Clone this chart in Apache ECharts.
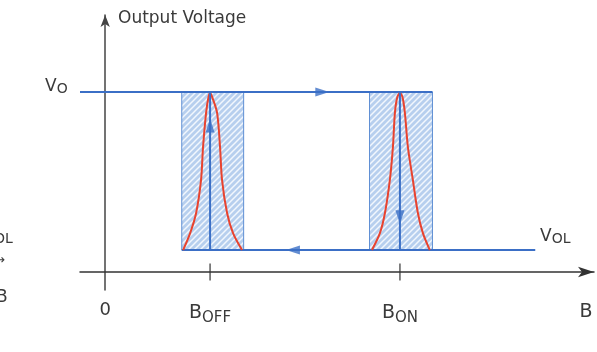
<!DOCTYPE html>
<html>
<head>
<meta charset="UTF-8">
<script src="https://cdn.jsdelivr.net/npm/echarts@6/dist/echarts.min.js"></script>
<style>html,body{margin:0;padding:0;background:#fff;}</style>
</head>
<body>
<div id="main" style="width:597px;height:352px;"></div>
<script>
// switching points (B) and output levels (V)
var bOff = 1.0, bOn = 2.81;
var vOH = 5.0, vOL = 0.61;
var highStart = -0.24, lowEnd = 4.1;

// shaded bands around each switching point
var bandOff = [0.73, 1.32];
var bandOn = [2.52, 3.12];

// red distribution curves
var peakOff = [[0.743,0.61],[0.81,1.08],[0.867,1.64],[0.914,2.56],[0.933,3.47],[0.962,4.42],[0.985,4.86],[1.0,4.97],
               [1.02,4.86],[1.067,4.42],[1.095,3.47],[1.114,2.56],[1.162,1.64],[1.219,1.08],[1.305,0.61]];
var peakOn = [[2.543,0.61],[2.619,1.08],[2.667,1.64],[2.714,2.56],[2.743,3.47],[2.762,4.42],[2.785,4.86],[2.81,4.97],
              [2.834,4.86],[2.857,4.42],[2.886,3.47],[2.933,2.56],[2.981,1.64],[3.029,1.08],[3.095,0.61]];

// direction arrows: [B, V, rotation]
var arrows = [[2.07, 5.0, -90], [1.79, 0.61, 90], [1.0, 4.07, 0], [2.81, 1.52, 180]];

// x axis labels
var labelVals = [0, bOff, bOn, 4.585];
var labelText = ['0', '{b|B}{s|OFF}', '{b|B}{s|ON}', '{b|B}'];

var blue = '#3b6fc6';
var red = '#e8432f';
var ink = '#3a3a3a';
var font = 'DejaVu Sans';

// hatch pattern for the bands
var hatch = document.createElement('canvas');
hatch.width = 6; hatch.height = 6;
var hc = hatch.getContext('2d');
hc.fillStyle = '#b7cfee';
hc.fillRect(0, 0, 6, 6);
hc.strokeStyle = '#f2f7fd';
hc.lineWidth = 1.5;
hc.beginPath();
hc.moveTo(0, 6); hc.lineTo(6, 0);
hc.moveTo(-1, 1); hc.lineTo(1, -1);
hc.moveTo(5, 7); hc.lineTo(7, 5);
hc.stroke();

function seg(pts, z) {
  return {
    type: 'line', data: pts, showSymbol: false, silent: true, z: z || 3,
    lineStyle: { color: blue, width: 2 }
  };
}

var chart = echarts.init(document.getElementById('main'));
chart.setOption({
  animation: false,
  grid: { left: 80, right: 3, top: 15, bottom: 62 },
  xAxis: {
    type: 'value', min: -0.24, max: 4.66,
    splitLine: { show: false },
    axisTick: { show: false },
    axisLine: { lineStyle: { color: '#333', width: 1.5 }, symbol: ['none', 'arrow'], symbolSize: [8, 16] },
    axisLabel: {
      customValues: labelVals,
      margin: 11,
      color: ink,
      fontFamily: font,
      fontSize: 18,
      formatter: function (v) {
        for (var i = 0; i < labelVals.length; i++) {
          if (Math.abs(labelVals[i] - v) < 1e-6) return labelText[i];
        }
        return '';
      },
      rich: {
        b: { fontSize: 19, fontFamily: font, color: ink, lineHeight: 22 },
        s: { fontSize: 15, fontFamily: font, color: ink, padding: [10, 0, 0, 0] }
      }
    }
  },
  yAxis: {
    type: 'value', min: -0.5, max: 7.14,
    splitLine: { show: false },
    axisTick: { show: false },
    axisLabel: { show: false },
    axisLine: { lineStyle: { color: '#444', width: 1.5 }, symbol: ['none', 'arrow'], symbolSize: [7, 12] }
  },
  graphic: [
    { type: 'text', left: 118, top: 10, style: { text: 'Output Voltage', fill: ink, font: '17px "DejaVu Sans"' } },
    { type: 'text', left: 45, top: 78, style: { text: '{a|V}{b|O}', rich: {
        a: { fontSize: 17, fontFamily: font, fill: ink },
        b: { fontSize: 14, fontFamily: font, fill: ink, padding: [6, 0, 0, 0] } } } },
    { type: 'text', left: 540, top: 228, style: { text: '{a|V}{b|OL}', rich: {
        a: { fontSize: 17, fontFamily: font, fill: ink },
        b: { fontSize: 14, fontFamily: font, fill: ink, padding: [6, 0, 0, 0] } } } },
    { type: 'text', left: -6, top: 232, style: { text: 'OL', fill: ink, font: '14px "DejaVu Sans"' } },
    { type: 'text', left: -6, top: 254, style: { text: '→', fill: ink, font: '13px "DejaVu Sans"' } },
    { type: 'text', left: -4, top: 289, style: { text: 'B', fill: ink, font: '17px "DejaVu Sans"' } }
  ],
  series: [
    {
      type: 'line', data: [], silent: true, z: 1,
      markArea: {
        silent: true,
        itemStyle: { color: { image: hatch, repeat: 'repeat' }, borderColor: '#5f8fd4', borderWidth: 1 },
        data: [
          [{ xAxis: bandOff[0], yAxis: vOL }, { xAxis: bandOff[1], yAxis: vOH }],
          [{ xAxis: bandOn[0], yAxis: vOL }, { xAxis: bandOn[1], yAxis: vOH }]
        ]
      }
    },
    {
      type: 'line', data: peakOff, smooth: 0.3, showSymbol: false, silent: true, z: 4,
      lineStyle: { color: red, width: 2 }
    },
    {
      type: 'line', data: peakOn, smooth: 0.3, showSymbol: false, silent: true, z: 4,
      lineStyle: { color: red, width: 2 }
    },
    seg([[highStart, vOH], [bandOn[1], vOH]]),
    seg([[bandOff[0], vOL], [lowEnd, vOL]]),
    seg([[bOff, vOL], [bOff, vOH]], 5),
    seg([[bOn, vOL], [bOn, vOH]], 5),
    {
      type: 'scatter', data: arrows, silent: true, z: 6,
      symbol: 'triangle', symbolSize: [9, 14],
      symbolRotate: function (v) { return v[2]; },
      itemStyle: { color: blue }
    },
    {
      type: 'scatter', data: [[bOff, 0], [bOn, 0]], silent: true, z: 6,
      symbol: 'rect', symbolSize: [1.5, 17],
      itemStyle: { color: '#333' }
    }
  ]
});
</script>
</body>
</html>
